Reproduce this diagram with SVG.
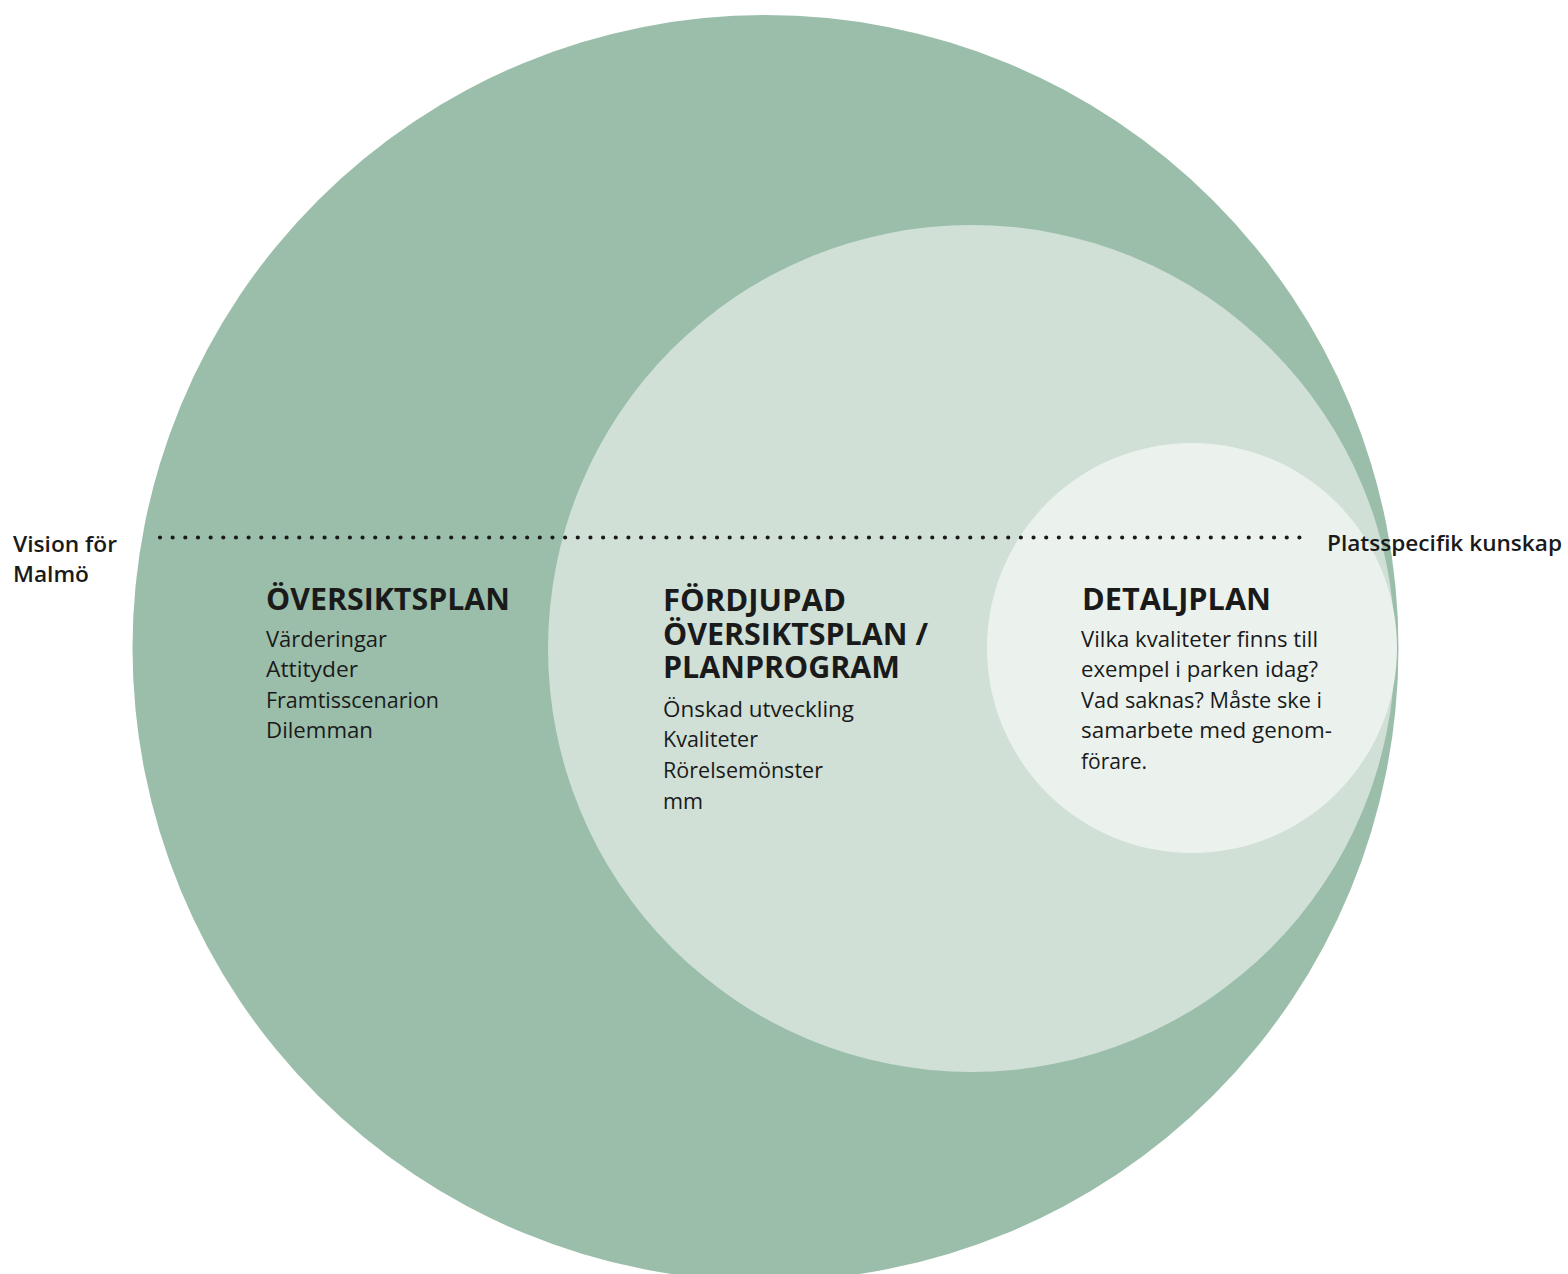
<svg xmlns="http://www.w3.org/2000/svg" width="1568" height="1274" viewBox="0 0 1568 1274">
<style>
text{font-family:"Open Sans","Noto Sans","Liberation Sans",sans-serif;fill:#1a1a1a}
.h{font-size:30px;font-weight:700}
.b{font-size:22px;font-weight:400}
.s{font-size:22px;font-weight:600}
</style>
<rect width="1568" height="1274" fill="#ffffff"/>
<g id="oversiktsplan-circle">
<circle cx="765.5" cy="648" r="633" fill="#9bbeab"/>
</g>
<g id="fordjupad-circle">
<circle cx="971.5" cy="648.5" r="423.5" fill="#d0e0d6"/>
</g>
<g id="detaljplan-circle">
<circle cx="1192" cy="648" r="205" fill="#ebf2ed"/>
</g>
<g id="connectors">
<line x1="160" y1="537.5" x2="1299.4" y2="537.5" stroke="#1a1a1a" stroke-width="4.2" stroke-linecap="round" stroke-dasharray="0 12.66"/>
</g>
<g id="label-vision">
<text class="s" x="13" y="552" textLength="104" lengthAdjust="spacingAndGlyphs">Vision för</text>
<text class="s" x="13" y="582" textLength="76" lengthAdjust="spacingAndGlyphs">Malmö</text>
</g>
<g id="label-platsspecifik">
<text class="s" x="1327" y="551" textLength="235" lengthAdjust="spacingAndGlyphs">Platsspecifik kunskap</text>
</g>
<g id="oversiktsplan-text">
<text class="h" x="266" y="610" textLength="244" lengthAdjust="spacingAndGlyphs">ÖVERSIKTSPLAN</text>
<text class="b" x="266" y="647" textLength="121" lengthAdjust="spacingAndGlyphs">Värderingar</text>
<text class="b" x="266" y="677" textLength="92" lengthAdjust="spacingAndGlyphs">Attityder</text>
<text class="b" x="266" y="708" textLength="173" lengthAdjust="spacingAndGlyphs">Framtisscenarion</text>
<text class="b" x="266" y="738" textLength="107" lengthAdjust="spacingAndGlyphs">Dilemman</text>
</g>
<g id="fordjupad-text">
<text class="h" x="663" y="611" textLength="183" lengthAdjust="spacingAndGlyphs">FÖRDJUPAD</text>
<text class="h" x="663" y="644.5" textLength="265" lengthAdjust="spacingAndGlyphs">ÖVERSIKTSPLAN /</text>
<text class="h" x="663" y="678" textLength="237" lengthAdjust="spacingAndGlyphs">PLANPROGRAM</text>
<text class="b" x="663" y="717" textLength="191" lengthAdjust="spacingAndGlyphs">Önskad utveckling</text>
<text class="b" x="663" y="747" textLength="95" lengthAdjust="spacingAndGlyphs">Kvaliteter</text>
<text class="b" x="663" y="778" textLength="160" lengthAdjust="spacingAndGlyphs">Rörelsemönster</text>
<text class="b" x="663" y="808.5" textLength="40" lengthAdjust="spacingAndGlyphs">mm</text>
</g>
<g id="detaljplan-text">
<text class="h" x="1082" y="610" textLength="189" lengthAdjust="spacingAndGlyphs">DETALJPLAN</text>
<text class="b" x="1081" y="647" textLength="237" lengthAdjust="spacingAndGlyphs">Vilka kvaliteter finns till</text>
<text class="b" x="1081" y="677" textLength="237" lengthAdjust="spacingAndGlyphs">exempel i parken idag?</text>
<text class="b" x="1081" y="708" textLength="241" lengthAdjust="spacingAndGlyphs">Vad saknas? Måste ske i</text>
<text class="b" x="1081" y="738" textLength="251" lengthAdjust="spacingAndGlyphs">samarbete med genom-</text>
<text class="b" x="1081" y="769" textLength="66" lengthAdjust="spacingAndGlyphs">förare.</text>
</g>
</svg>
